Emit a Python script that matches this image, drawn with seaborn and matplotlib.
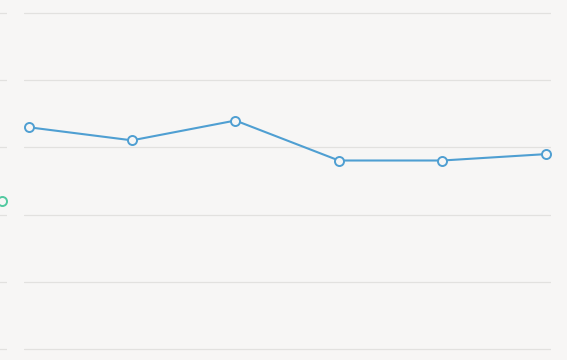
import matplotlib
matplotlib.use("Agg")
import matplotlib.pyplot as plt
import seaborn as sns
import pandas as pd

# Data
periods = [0, 1, 2, 3, 4, 5]
blue_values = [66.0, 62.1, 68.0, 56.1, 56.1, 58.0]
green_periods = [5]
green_values = [44.0]
y_ticks = [0, 20, 40, 60, 80, 100]

BG = "#f7f6f5"
GRID = "#e2e1df"
BLUE = "#4f9fd2"
GREEN = "#52c9a0"

sns.set_theme(style="white")
W, H = 567, 360
PAD = 3.36  # 1 data unit in px
fig = plt.figure(figsize=(W / 100, H / 100), dpi=100, facecolor=BG)

def make_ax(left_px, right_px):
    top_px, bot_px = 13 - PAD, 349 + PAD
    ax = fig.add_axes([left_px / W, (H - bot_px) / H, (right_px - left_px) / W, (bot_px - top_px) / H])
    ax.set_facecolor(BG)
    ax.set_yticks(y_ticks)
    ax.set_xticks([])
    ax.yaxis.grid(True, color=GRID, linewidth=0.9)
    ax.set_axisbelow(True)
    ax.tick_params(left=False, labelleft=False, bottom=False, labelbottom=False)
    for s in ax.spines.values():
        s.set_visible(False)
    return ax

ax0 = make_ax(-520, 7)
ax = make_ax(24, 551)

df_blue = pd.DataFrame({"period": periods, "value": blue_values})
df_green = pd.DataFrame({"period": green_periods, "value": green_values})

sns.lineplot(data=df_blue, x="period", y="value", ax=ax, color=BLUE, linewidth=1.5,
             marker="o", markersize=6.5, markerfacecolor=BG, markeredgecolor=BLUE,
             markeredgewidth=1.4, clip_on=False)
sns.lineplot(data=df_green, x="period", y="value", ax=ax0, color=GREEN, linewidth=1.5,
             marker="o", markersize=6.5, markerfacecolor=BG, markeredgecolor=GREEN,
             markeredgewidth=1.4, clip_on=False)

for a in (ax0, ax):
    a.set_xlabel("")
    a.set_ylabel("")
    a.set_xticks([])
    a.set_yticks(y_ticks)
    a.set_xlim(-0.044, 5.051)
    a.set_ylim(-1, 101)
    leg = a.get_legend()
    if leg:
        leg.remove()

fig.savefig("out.png", dpi=100, facecolor=BG)
